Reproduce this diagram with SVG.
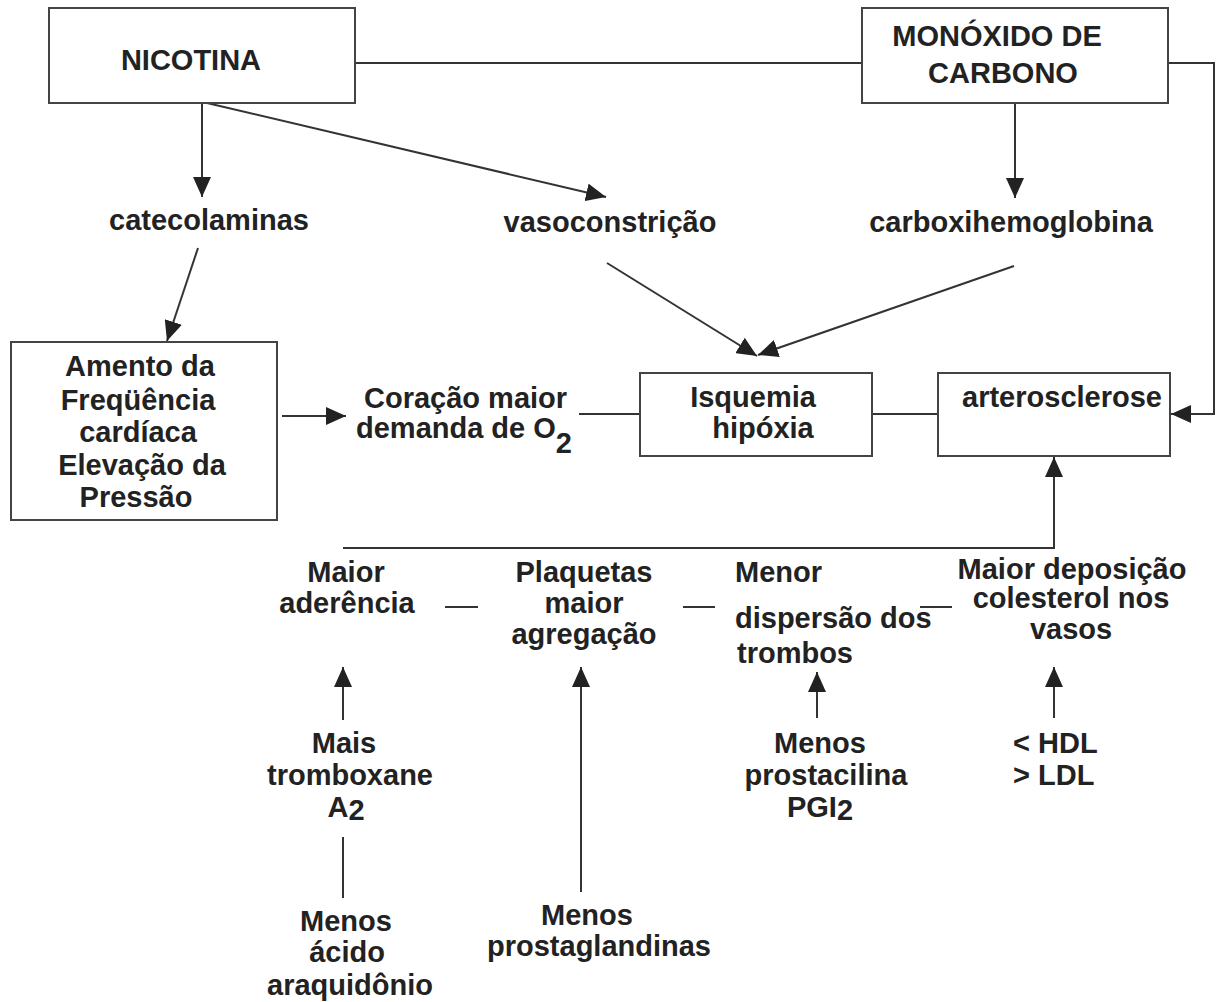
<svg xmlns="http://www.w3.org/2000/svg" width="1221" height="1002" viewBox="0 0 1221 1002">
<style>
text{font-family:"Liberation Sans",Arial,sans-serif;font-weight:bold;font-size:29px;fill:#222}
.c{text-anchor:middle}
.box{fill:#fff;stroke:#444;stroke-width:2}
.ln{fill:none;stroke:#333;stroke-width:2}
</style>
<defs>
<marker id="ah" markerUnits="userSpaceOnUse" markerWidth="20" markerHeight="18" refX="20" refY="9" orient="auto">
<path d="M0,0 L20,9 L0,18 z" fill="#222"/>
</marker>
</defs>
<rect width="1221" height="1002" fill="#fff"/>
<g id="connectors">
<line class="ln" x1="355" y1="63" x2="862" y2="63"/>
<line class="ln" x1="202" y1="103" x2="202" y2="197" marker-end="url(#ah)"/>
<line class="ln" x1="207" y1="103" x2="606" y2="197" marker-end="url(#ah)"/>
<line class="ln" x1="1015" y1="103" x2="1015" y2="198" marker-end="url(#ah)"/>
<polyline class="ln" points="1168,63 1214,63 1214,414 1171,414" marker-end="url(#ah)"/>
<line class="ln" x1="198" y1="248" x2="167" y2="341" marker-end="url(#ah)"/>
<line class="ln" x1="607" y1="263" x2="757" y2="356" marker-end="url(#ah)"/>
<line class="ln" x1="1014" y1="266" x2="758" y2="355" marker-end="url(#ah)"/>
<line class="ln" x1="282" y1="416" x2="346" y2="416" marker-end="url(#ah)"/>
<line class="ln" x1="579" y1="414" x2="640" y2="414"/>
<line class="ln" x1="872" y1="414" x2="938" y2="414"/>
<line class="ln" x1="813" y1="401" x2="824" y2="401"/>
<polyline class="ln" points="343,548 1054,548 1054,457" marker-end="url(#ah)"/>
<line class="ln" x1="445" y1="607" x2="478" y2="607"/>
<line class="ln" x1="683" y1="607" x2="715" y2="607"/>
<line class="ln" x1="920" y1="607" x2="952" y2="607"/>
<line class="ln" x1="343" y1="720" x2="343" y2="667" marker-end="url(#ah)"/>
<line class="ln" x1="581" y1="892" x2="581" y2="667" marker-end="url(#ah)"/>
<line class="ln" x1="817" y1="718" x2="817" y2="672" marker-end="url(#ah)"/>
<line class="ln" x1="1054" y1="718" x2="1054" y2="667" marker-end="url(#ah)"/>
<line class="ln" x1="343" y1="837" x2="343" y2="898"/>
</g>
<g id="nicotina">
<rect class="box" x="49" y="8" width="306" height="95"/>
<text class="c" x="191" y="70">NICOTINA</text>
</g>
<g id="monoxido">
<rect class="box" x="862" y="8" width="306" height="95"/>
<text class="c" x="997" y="46">MONÓXIDO DE</text>
<text class="c" x="1003" y="83">CARBONO</text>
</g>
<g id="catecolaminas"><text class="c" x="209" y="230">catecolaminas</text></g>
<g id="vasoconstricao"><text class="c" x="610" y="232">vasoconstrição</text></g>
<g id="carboxihemoglobina"><text class="c" x="1011" y="232">carboxihemoglobina</text></g>
<g id="amento">
<rect class="box" x="11" y="342" width="266" height="178"/>
<text class="c" x="140" y="376">Amento da</text>
<text class="c" x="138" y="410">Freqüência</text>
<text class="c" x="138" y="442">cardíaca</text>
<text class="c" x="142" y="475">Elevação da</text>
<text class="c" x="136" y="507">Pressão</text>
</g>
<g id="coracao">
<text x="364" y="408">Coração maior</text>
<text x="356" y="438">demanda de O<tspan dy="15">2</tspan></text>
</g>
<g id="isquemia">
<rect class="box" x="640" y="373" width="232" height="83"/>
<text class="c" x="753" y="407">Isquemia</text>
<text class="c" x="763" y="438">hipóxia</text>
</g>
<g id="arterosclerose">
<rect class="box" x="938" y="373" width="232" height="83"/>
<text class="c" x="1062" y="407">arterosclerose</text>
</g>
<g id="aderencia">
<text class="c" x="346" y="582">Maior</text>
<text class="c" x="347" y="613">aderência</text>
</g>
<g id="plaquetas">
<text class="c" x="584" y="582">Plaquetas</text>
<text class="c" x="584" y="613">maior</text>
<text class="c" x="584" y="644">agregação</text>
</g>
<g id="menor">
<text x="735" y="582">Menor</text>
<text x="735" y="628">dispersão dos</text>
<text x="737" y="663">trombos</text>
</g>
<g id="deposicao">
<text class="c" x="1072" y="579">Maior deposição</text>
<text class="c" x="1071" y="608">colesterol nos</text>
<text class="c" x="1071" y="639">vasos</text>
</g>
<g id="tromboxane">
<text class="c" x="344" y="753">Mais</text>
<text class="c" x="350" y="785">tromboxane</text>
<text class="c" x="346" y="817">A<tspan dy="3">2</tspan></text>
</g>
<g id="araquidonio">
<text class="c" x="346" y="931">Menos</text>
<text class="c" x="347" y="962">ácido</text>
<text class="c" x="350" y="995">araquidônio</text>
</g>
<g id="prostaglandinas">
<text class="c" x="587" y="925">Menos</text>
<text class="c" x="599" y="956">prostaglandinas</text>
</g>
<g id="prostacilina">
<text class="c" x="820" y="753">Menos</text>
<text class="c" x="826" y="785">prostacilina</text>
<text class="c" x="820" y="817">PGI<tspan dy="3">2</tspan></text>
</g>
<g id="hdl">
<text x="1013" y="753">&lt; HDL</text>
<text x="1013" y="785">&gt; LDL</text>
</g>
</svg>
